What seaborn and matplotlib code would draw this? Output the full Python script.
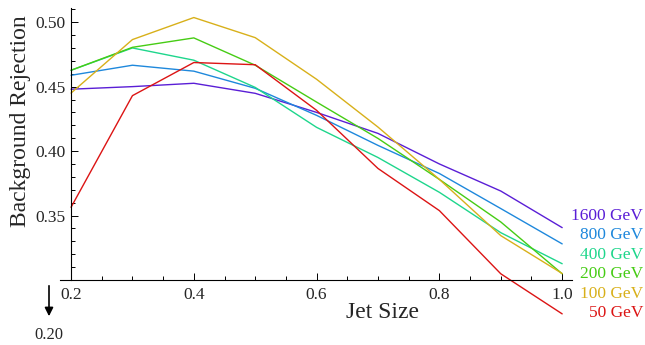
import numpy as np
import pandas as pd
import matplotlib
matplotlib.use("Agg")
import matplotlib.pyplot as plt
from matplotlib.ticker import MultipleLocator, FixedLocator
import seaborn as sns

# Dati
jet_size = [0.2, 0.3, 0.4, 0.5, 0.6, 0.7, 0.8, 0.9, 1.0]
rej_1600 = [0.448, 0.450, 0.4526, 0.4448, 0.430, 0.4137, 0.390, 0.369, 0.3406]
rej_800 = [0.4588, 0.4666, 0.462, 0.4487, 0.4277, 0.4044, 0.3826, 0.3554, 0.328]
rej_400 = [0.4627, 0.480, 0.4705, 0.4494, 0.4184, 0.395, 0.368, 0.3367, 0.3126]
rej_200 = [0.4627, 0.4805, 0.4878, 0.4666, 0.438, 0.4098, 0.378, 0.345, 0.3048]
rej_100 = [0.445, 0.4865, 0.5036, 0.488, 0.4557, 0.4186, 0.378, 0.3344, 0.305]
rej_50 = [0.3564, 0.443, 0.4687, 0.467, 0.4316, 0.3865, 0.3538, 0.3048, 0.2737]
energies = ["1600 GeV", "800 GeV", "400 GeV", "200 GeV", "100 GeV", "50 GeV"]
colors = ["#5a1ed6", "#1e88dc", "#1ed68c", "#46cc14", "#d8b01a", "#dc1414"]

series = [rej_1600, rej_800, rej_400, rej_200, rej_100, rej_50]
df = pd.DataFrame({
    "Jet Size": np.tile(jet_size, len(energies)),
    "rej": np.concatenate(series),
    "E": np.repeat(energies, len(jet_size)),
})

sns.set_style("ticks")
plt.rcParams["font.family"] = ["Liberation Serif", "DejaVu Serif"]

fig = plt.figure(figsize=(6.45, 3.45), dpi=100)
ax = fig.add_axes([60 / 645, 1 - 318 / 345, 512 / 645, 310 / 345])

sns.lineplot(data=df, x="Jet Size", y="rej", hue="E", hue_order=energies,
             palette=colors, linewidth=1.0, legend=False, ax=ax)

ax.set_xlim(0.182, 1.016)
ax.set_ylim(0.2705, 0.511)

# assi in stile Mathematica
ax.spines["top"].set_visible(False)
ax.spines["right"].set_visible(False)
ax.spines["left"].set_position(("data", 0.2))
ax.spines["bottom"].set_position(("data", 0.30))
ax.spines["left"].set_bounds(0.30, 0.511)
for s in ["left", "bottom"]:
    ax.spines[s].set_linewidth(0.8)
    ax.spines[s].set_color("black")

ax.xaxis.set_major_locator(FixedLocator([0.2, 0.4, 0.6, 0.8, 1.0]))
ax.xaxis.set_minor_locator(MultipleLocator(0.05))
ax.yaxis.set_major_locator(FixedLocator([0.35, 0.40, 0.45, 0.50]))
ax.yaxis.set_minor_locator(FixedLocator(np.arange(0.30, 0.511, 0.01)))
ax.set_xticklabels(["0.2", "0.4", "0.6", "0.8", "1.0"])
ax.set_yticklabels(["0.35", "0.40", "0.45", "0.50"])
ax.tick_params(which="both", direction="in", labelsize=12.5, color="black", width=0.7)
ax.tick_params(which="major", length=5)
ax.tick_params(which="minor", length=3)
ax.tick_params(axis="x", pad=5)
ax.tick_params(axis="y", pad=4)

ax.set_xlabel("")
ax.set_ylabel("")
fig.text(382 / 645, 1 - 312 / 345, "Jet Size", fontsize=17, ha="center", va="center")
fig.text(21 / 645, 1 - 121 / 345, "Background Rejection", fontsize=17,
         rotation=90, ha="center", va="center")

# etichette delle serie
for i, (e, c) in enumerate(zip(energies, colors)):
    fig.text(643 / 645, 1 - (216 + 19.4 * i) / 345, e, color=c, fontsize=12.5,
             ha="right", va="center")

# freccia verso 0.20
fig.patches.append(matplotlib.patches.FancyArrowPatch(
    (49 / 645, 1 - 283 / 345), (49 / 645, 1 - 319 / 345), transform=fig.transFigure,
    arrowstyle="-|>,head_length=5,head_width=2.5", color="black", lw=1.2))
fig.text(49 / 645, 1 - 335 / 345, "0.20", fontsize=12, ha="center", va="center")

fig.savefig("out.png", dpi=100)
